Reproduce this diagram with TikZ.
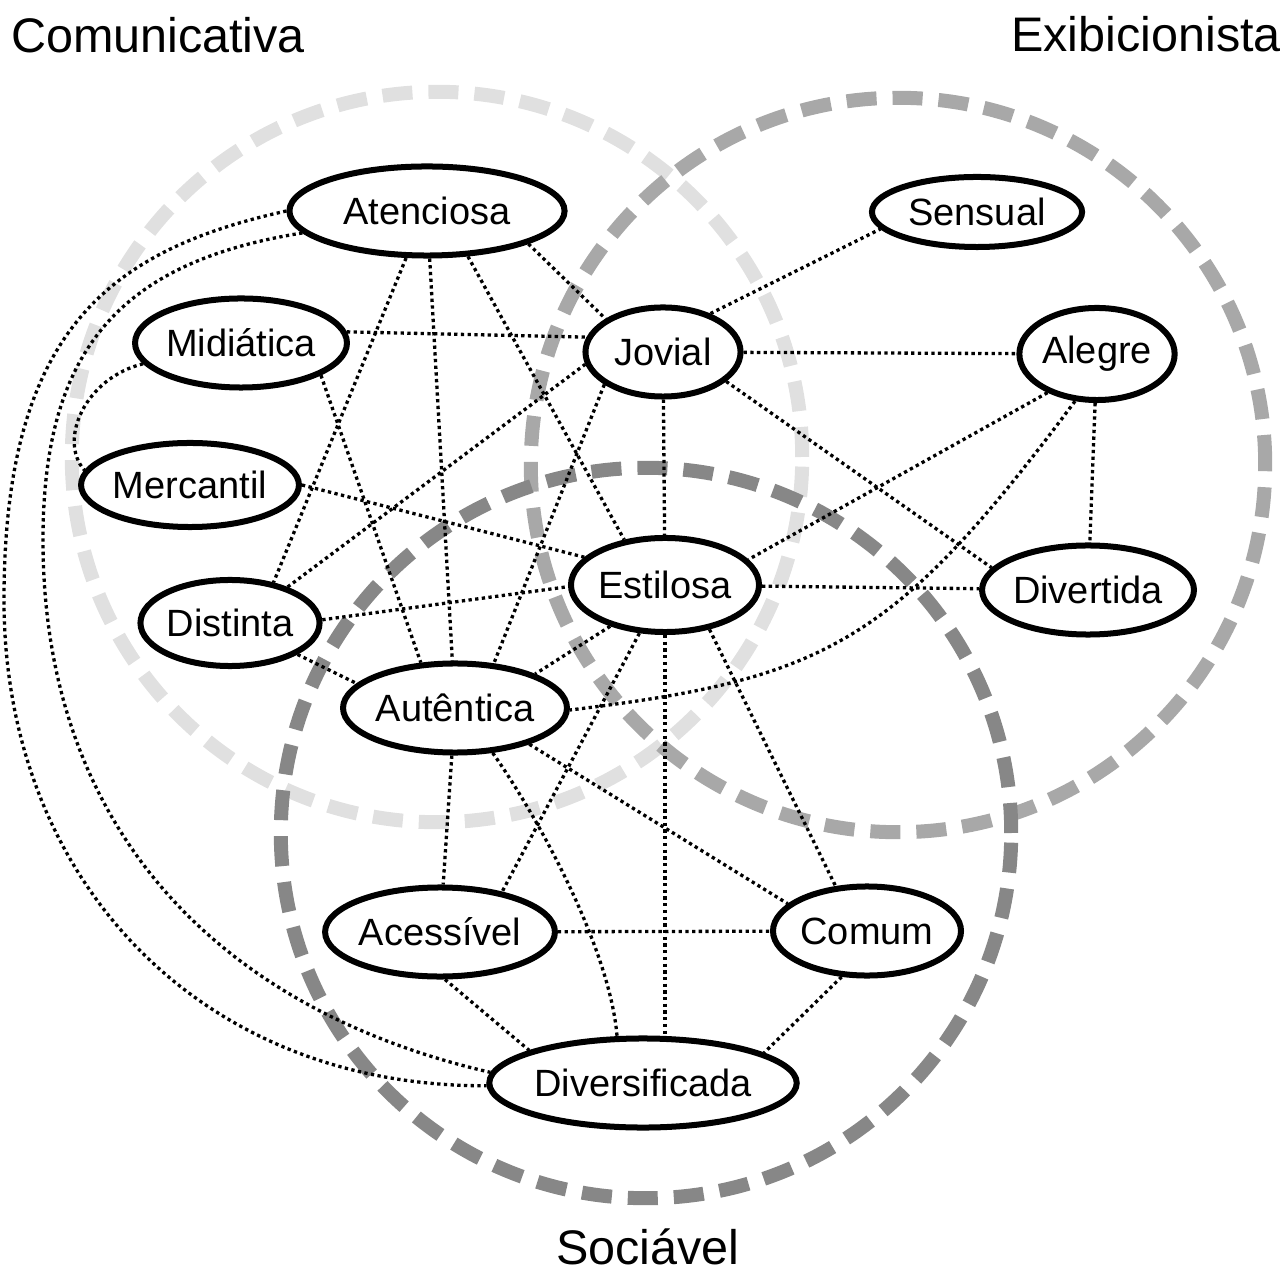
\documentclass[tikz,border=0pt]{standalone}
\usepackage{fontspec}
\setmainfont{Liberation Sans}
\usetikzlibrary{shapes.geometric}
\begin{document}
\begin{tikzpicture}
[x=0.01cm,y=-0.01cm,
trait/.style={ellipse,draw=black,line width=0.06cm,fill=white,inner sep=0pt,minimum height=0.89cm,font=\fontsize{10.8}{12}\selectfont},
link/.style={line width=0.033cm,dash pattern=on 0.033cm off 0.034cm},
group/.style={line width=0.14cm,dash pattern=on 0.30cm off 0.16cm},
grouplabel/.style={anchor=base,inner sep=0pt,font=\fontsize{13.8}{16}\selectfont}]
\useasboundingbox (0,0) rectangle (1286,1274);

% the three groups
\draw[group,black!12] (437,457) circle (3.65cm);
\draw[group,black!34] (898,465) circle (3.67cm);
\draw[group,black!47] (646,833) circle (3.65cm);

\node[grouplabel] (com) at (158,53) {Comunicativa};
\node[grouplabel] (exi) at (1146,52) {Exibicionista};
\node[grouplabel] (soc) at (648,1264) {Sociável};

% traits
\node[trait,minimum width=2.75cm] (aten) at (427,211) {Atenciosa};
\node[trait,minimum width=2.10cm,minimum height=0.70cm] (sens) at (977,212) {Sensual};
\node[trait,minimum width=2.07cm] (midi) at (241,343) {Midiática};
\node[trait,minimum width=1.55cm] (jovi) at (663,352) {Jovial};
\node[trait,minimum width=1.50cm,minimum height=0.92cm] (aleg) at (1097,354) {Alegre};
\node[trait,minimum width=2.11cm,minimum height=0.84cm] (merc) at (190,485) {Mercantil};
\node[trait,minimum width=1.67cm,minimum height=0.94cm] (esti) at (665,585) {Estilosa};
\node[trait,minimum width=2.10cm] (dive) at (1088,590) {Divertida};
\node[trait,minimum width=1.75cm,minimum height=0.86cm] (dist) at (230,623) {Distinta};
\node[trait,minimum width=2.20cm] (aute) at (455,708) {Autêntica};
\node[trait,minimum width=2.11cm] (aces) at (440,932) {Acessível};
\node[trait,minimum width=1.67cm] (comu) at (867,931) {Comum};
\node[trait,minimum width=2.75cm] (dver) at (643,1083) {Diversificada};

\coordinate (far) at (4,600);
\coordinate (near) at (43,540);

% Atenciosa
\draw[link] (aten.342) -- (jovi.150);
\draw[link] (aten.312) -- (esti.132);
\draw[link] (aten) -- (aute);
\draw[link] (aten.246) -- (dist.43);
\draw[link] (aten.180) .. controls (110,250) and (4,330) .. (far) .. controls (4,880) and (200,1087) .. (dver.181);
\draw[link] (aten.190) .. controls (120,262) and (43,350) .. (near) .. controls (43,830) and (220,1010) .. (dver.176);

% Midiatica, Mercantil, Distinta
\draw[link] (midi.6) -- (jovi.169);
\draw[link] (midi.338) -- (aute.127);
\draw[link] (midi.192) .. controls (85,378) and (58,440) .. (merc.172);
\draw[link] (merc.0) -- (esti.161);
\draw[link] (dist.32) -- (jovi.189);
\draw[link] (dist.2) -- (esti.181);
\draw[link] (dist.335) -- (aute.166);

% Jovial, Alegre
\draw[link] (jovi.39) -- (sens.190);
\draw[link] (jovi) -- (aleg);
\draw[link] (jovi) -- (esti);
\draw[link] (jovi.335) -- (dive.167);
\draw[link] (jovi.209) -- (aute.49);
\draw[link] (aleg.218) -- (esti.17);
\draw[link] (aleg.245) .. controls (894,644) and (825,679) .. (aute.359);
\draw[link] (aleg) -- (dive);

% Estilosa
\draw[link] (esti) -- (dive);
\draw[link] (esti.217) -- (aute.23);
\draw[link] (esti) -- (aces.33);
\draw[link] (esti.south) -- (esti.south |- dver.north);
\draw[link] (esti.315) -- (comu.125);

% Autentica and below
\draw[link] (aute) -- (aces);
\draw[link] (aute.310) .. controls (540,820) and (610,950) .. (dver.119);
\draw[link] (aute.334) -- (comu.161);
\draw[link] (aces) -- (comu);
\draw[link] (aces.276) -- (dver.164);
\draw[link] (comu.241) -- (dver.14);

\end{tikzpicture}
\end{document}
